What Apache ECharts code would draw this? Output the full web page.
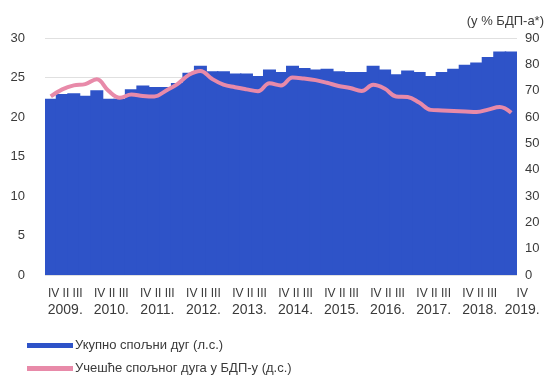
<!DOCTYPE html>
<html>
<head>
<meta charset="utf-8">
<script src="https://cdn.jsdelivr.net/npm/echarts@6/dist/echarts.min.js"></script>
<style>
  html, body { margin: 0; padding: 0; background: #fff; }
  #chart { width: 554px; height: 376px; }
</style>
</head>
<body>
<div id="chart"></div>
<script>
// Quarters from 2009 Q1 to 2019 Q1
const years = ['2009', '2010', '2011', '2012', '2013', '2014', '2015', '2016', '2017', '2018', '2019'];
const quarterTicks = 'IV II III';
const lastQuarterTick = 'IV';

// Total external debt, bn EUR (left axis)
const totalDebt = [
  22.3, 22.9, 23.0, 22.7, 23.4, 22.3, 22.3, 23.5,
  24.0, 23.8, 23.8, 24.3, 25.6, 26.5, 25.8, 25.8,
  25.5, 25.5, 25.2, 26.0, 25.7, 26.5, 26.2, 26.0,
  26.1, 25.8, 25.7, 25.7, 26.5, 26.0, 25.4, 25.9,
  25.7, 25.2, 25.7, 26.1, 26.6, 26.9, 27.6, 28.3,
  28.3
];

// External debt as a share of GDP, % (right axis)
const debtToGdp = [
  67.8, 70.5, 72.0, 72.5, 74.3, 70.0, 67.3, 68.5,
  68.0, 67.8, 70.0, 72.5, 76.0, 77.5, 74.5, 72.3,
  71.3, 70.5, 69.8, 72.8, 72.0, 75.0, 74.6, 74.0,
  73.0, 71.8, 71.0, 69.9, 72.2, 70.8, 67.8, 67.6,
  65.5, 62.7, 62.5, 62.3, 62.1, 61.9, 62.8, 63.8,
  61.6
];

const categories = [];
years.forEach(function (y) {
  for (let q = 1; q <= 4; q++) {
    if (categories.length < totalDebt.length) categories.push(y + '-Q' + q);
  }
});
const lastIndex = categories.length - 1;

const barName = 'Укупно спољни дуг (л.с.)';
const lineName = 'Учешће спољног дуга у БДП-у (д.с.)';
const barColor = '#2e53c8';
const lineColor = '#e88aa9';
const textColor = '#3a3a3a';
const fontFamily = 'Liberation Sans, Arial, sans-serif';

function quarterRich(shift) {
  return {
    q: { fontSize: 12, color: textColor, padding: [0, 0, 0, shift], lineHeight: 17 },
    y: { fontSize: 14, color: textColor, padding: [0, 0, 0, shift], lineHeight: 17 }
  };
}

const legendText = { fontSize: 13, color: textColor, padding: [0, 0, 0, -3] };

const chart = echarts.init(document.getElementById('chart'), null, { renderer: 'canvas' });

chart.setOption({
  animation: false,
  textStyle: { fontFamily: fontFamily },
  grid: { left: 45, right: 37, top: 38, bottom: 101 },
  title: {
    text: '(у % БДП-а*)',
    right: 5,
    top: 10,
    textStyle: { fontSize: 13, fontWeight: 'normal', color: textColor, fontFamily: fontFamily }
  },
  legend: [
    {
      left: 22, top: 334, itemWidth: 46, itemHeight: 5, textStyle: legendText,
      data: [{ name: barName, icon: 'rect', itemStyle: { color: barColor } }]
    },
    {
      left: 22, top: 357, itemWidth: 46, itemHeight: 5, textStyle: legendText,
      data: [{ name: lineName, icon: 'rect', itemStyle: { color: lineColor } }]
    }
  ],
  xAxis: [
    {
      type: 'category',
      data: categories,
      boundaryGap: true,
      axisLine: { show: false },
      axisTick: { show: false },
      axisLabel: {
        interval: function (i) { return i % 4 === 1 && i !== lastIndex; },
        margin: 10,
        formatter: function (val) {
          return '{q|' + quarterTicks + '}\n{y|' + val.slice(0, 4) + '.}';
        },
        rich: quarterRich(6)
      }
    },
    {
      // second pass over the same quarters, labelling only the final one
      type: 'category',
      position: 'bottom',
      data: categories,
      boundaryGap: true,
      axisLine: { show: false },
      axisTick: { show: false },
      splitLine: { show: false },
      axisLabel: {
        interval: function (i) { return i === lastIndex; },
        margin: 10,
        formatter: function (val) {
          return '{q|' + lastQuarterTick + '}\n{y|' + val.slice(0, 4) + '.}';
        },
        rich: quarterRich(22)
      }
    }
  ],
  yAxis: [
    {
      type: 'value',
      min: 0,
      max: 30,
      interval: 5,
      axisLine: { show: false },
      axisTick: { show: false },
      splitLine: { show: true, lineStyle: { color: '#e0e0e0', width: 1 } },
      axisLabel: { fontSize: 13, color: textColor, margin: 20 }
    },
    {
      type: 'value',
      min: 0,
      max: 90,
      interval: 10,
      axisLine: { show: false },
      axisTick: { show: false },
      splitLine: { show: false },
      axisLabel: { fontSize: 13, color: textColor, margin: 8 }
    }
  ],
  series: [
    {
      name: barName,
      type: 'bar',
      xAxisIndex: 0,
      yAxisIndex: 0,
      data: totalDebt,
      barWidth: 13,
      itemStyle: { color: barColor },
      z: 2
    },
    {
      name: lineName,
      type: 'line',
      xAxisIndex: 0,
      yAxisIndex: 1,
      data: debtToGdp,
      smooth: 0.4,
      showSymbol: false,
      symbol: 'none',
      lineStyle: { color: lineColor, width: 4 },
      z: 3
    }
  ]
});
</script>
</body>
</html>
